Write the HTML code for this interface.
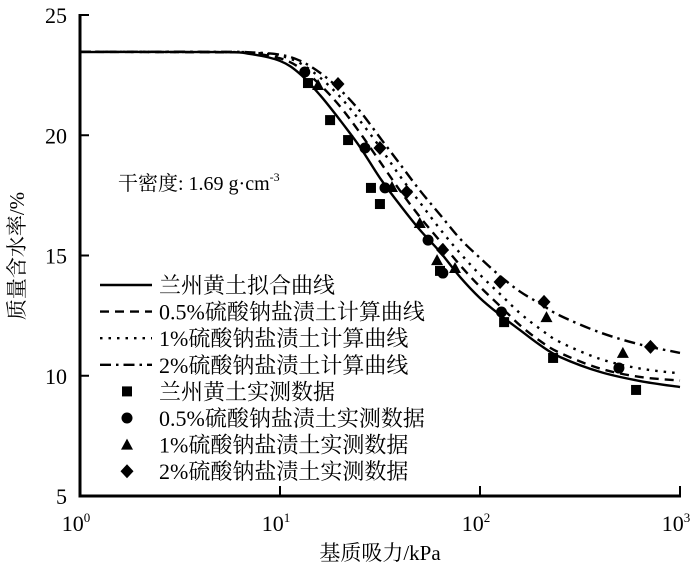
<!DOCTYPE html>
<html><head><meta charset="utf-8"><style>
html,body{margin:0;padding:0;background:#fff;}
svg{display:block;}
text{font-family:"Liberation Serif","Noto Serif CJK SC","Noto Sans CJK SC",serif;fill:#000;}
</style></head><body>
<svg id="chart" width="700" height="572" viewBox="0 0 700 572" xmlns="http://www.w3.org/2000/svg">
<g id="axes"></g>
<g id="curves"></g>
<g id="points"></g>
<text x="118" y="190" font-size="20">干密度: 1.69 g·cm<tspan font-size="12" dy="-9">-3</tspan></text>
<text transform="translate(24,256) rotate(-90)" text-anchor="middle" font-size="21">质量含水率/%</text>
<text x="380" y="560" text-anchor="middle" font-size="21">基质吸力/kPa</text>
<g id="legend"></g>
</svg>
<script>
const yTicks=[5,10,15,20,25];
const xTickExps=[0,1,2,3];
// curves: log10(suction) and water content
const curveLogX=[0,0.7,0.85,1.0,1.1,1.2,1.3,1.4,1.5,1.6,1.7,1.8,1.9,2.0,2.1,2.2,2.3,2.4,2.6,2.8,3.0];
const fitLoess=[23.46,23.46,23.38,23.09,22.55,21.67,20.63,19.51,18.22,17.10,16.06,15.15,14.11,13.23,12.53,11.90,11.28,10.78,10.16,9.78,9.53];
const calc05=[23.47,23.45,23.42,23.2,22.8,22.1,21.2,20.1,18.9,17.7,16.6,15.6,14.6,13.7,12.9,12.1,11.45,10.95,10.3,9.95,9.8];
const calc1=[23.47,23.46,23.44,23.3,23.0,22.4,21.6,20.6,19.5,18.3,17.2,16.1,15.1,14.2,13.4,12.6,11.95,11.4,10.7,10.3,10.1];
const calc2=[23.47,23.47,23.45,23.35,23.1,22.6,21.9,21.0,19.9,18.8,17.7,16.7,15.7,14.9,14.15,13.5,13.0,12.5,11.8,11.3,10.95];
// measured data: suction (kPa), water content (%)
const sqX=[13.8,17.8,21.9,28.5,31.6,63.1,132,232,603];
const sqY=[22.17,20.63,19.80,17.81,17.14,14.36,12.23,10.74,9.41];
const ciX=[13.3,26.6,33.5,55,65.2,128,495];
const ciY=[22.63,19.47,17.81,15.64,14.27,12.65,10.32];
const trX=[15.5,36.3,50,61,75,215,518];
const trY=[22.09,17.85,16.35,14.81,14.48,12.44,10.95];
const diX=[19.5,31.6,43,65,126,209,712];
const diY=[22.13,19.47,17.64,15.23,13.90,13.07,11.2];

const X0=80,DEC=200,Y25=15,PPU=24.05;
function sx(v){return X0+Math.log10(v)*DEC;}
function sxl(l){return X0+l*DEC;}
function sy(v){return Y25+(25-v)*PPU;}
const NS="http://www.w3.org/2000/svg";
function mk(tag,parent,attrs){const e=document.createElementNS(NS,tag);for(const k in attrs)e.setAttribute(k,attrs[k]);parent.appendChild(e);return e;}

const axes=document.getElementById('axes');
const yAxis=mk('line',axes,{x1:X0,y1:Y25-1,x2:X0,y2:sy(5)+1.5,stroke:'#000','stroke-width':3});


const xAxis=mk('line',axes,{x1:X0-1.5,y1:sy(5),x2:sxl(3)+1,y2:sy(5),stroke:'#000','stroke-width':3});


yTicks.forEach(t=>{
  const tk=mk('line',axes,{x1:X0,y1:sy(t),x2:X0+9,y2:sy(t),stroke:'#000','stroke-width':2});
  
  
  const lb=mk('text',axes,{x:X0-13,y:sy(t)+8,'text-anchor':'end','font-size':22});
  lb.textContent=t;
  
  
});
xTickExps.forEach(e=>{
  if(e>0){const tk=mk('line',axes,{x1:sxl(e),y1:sy(5),x2:sxl(e),y2:sy(5)-10,stroke:'#000','stroke-width':2});
  
  }
  const lb=mk('text',axes,{x:sxl(e)-4,y:531,'text-anchor':'middle','font-size':22});
  lb.textContent='10';
  const sp=mk('tspan',lb,{'font-size':13,dy:-9});sp.textContent=e;
  
  
});

function smoothPath(xs,ys){
  const p=xs.map((x,i)=>[sxl(x),sy(ys[i])]);
  let d='M'+p[0][0]+','+p[0][1];
  for(let i=0;i<p.length-1;i++){
    const p0=p[Math.max(0,i-1)],p1=p[i],p2=p[i+1],p3=p[Math.min(p.length-1,i+2)];
    const c1x=p1[0]+(p2[0]-p0[0])/6,c1y=p1[1]+(p2[1]-p0[1])/6;
    const c2x=p2[0]-(p3[0]-p1[0])/6,c2y=p2[1]-(p3[1]-p1[1])/6;
    d+=` C${c1x},${c1y} ${c2x},${c2y} ${p2[0]},${p2[1]}`;
  }
  return d;
}
const curves=document.getElementById('curves');
const styles=[
 {ys:fitLoess,dash:'',name:'fit-curve-loess'},
 {ys:calc05,dash:'9,6',name:'calc-curve-0.5pct'},
 {ys:calc1,dash:'2.5,6',name:'calc-curve-1pct'},
 {ys:calc2,dash:'11,5,2.5,5',name:'calc-curve-2pct'}];
styles.forEach(s=>{
  const pa=mk('path',curves,{d:smoothPath(curveLogX,s.ys),fill:'none',stroke:'#000','stroke-width':2.4,'stroke-dasharray':s.dash});
  
  
});

function marker(parent,type,cx,cy){
  let e;
  if(type==='sq')e=mk('rect',parent,{x:cx-5,y:cy-5,width:10,height:10});
  else if(type==='ci')e=mk('circle',parent,{cx:cx,cy:cy,r:5.5});
  else if(type==='tr')e=mk('polygon',parent,{points:`${cx},${cy-6} ${cx+6},${cy+5} ${cx-6},${cy+5}`});
  else e=mk('polygon',parent,{points:`${cx},${cy-7} ${cx+6.5},${cy} ${cx},${cy+7} ${cx-6.5},${cy}`});
  e.setAttribute('fill','#000');
  return e;
}
const pts=document.getElementById('points');
[['sq',sqX,sqY,'point-loess'],['ci',ciX,ciY,'point-0.5pct'],['tr',trX,trY,'point-1pct'],['di',diX,diY,'point-2pct']].forEach(([t,xs,ys,n])=>{
  xs.forEach((x,i)=>{
    const m=marker(pts,t,sx(x),sy(ys[i]));
    
    
  });
});

const legend=document.getElementById('legend');
const legLabels=['兰州黄土拟合曲线','0.5%硫酸钠盐渍土计算曲线','1%硫酸钠盐渍土计算曲线','2%硫酸钠盐渍土计算曲线','兰州黄土实测数据','0.5%硫酸钠盐渍土实测数据','1%硫酸钠盐渍土实测数据','2%硫酸钠盐渍土实测数据'];
const legDash=['','9,6','2.5,6','11,5,2.5,5'];
const legMk=['sq','ci','tr','di'];
legLabels.forEach((lab,i)=>{
  const y=285+i*26.6;
  if(i<4){
    const l=mk('line',legend,{x1:100,y1:y,x2:152,y2:y,stroke:'#000','stroke-width':2.4,'stroke-dasharray':legDash[i]});
    
    
  }else{
    const m=marker(legend,legMk[i-4],127,y);
    
    
  }
  const t=mk('text',legend,{x:159,y:y+8,'font-size':22});
  t.textContent=lab;
  
  
});
</script>
</body></html>
